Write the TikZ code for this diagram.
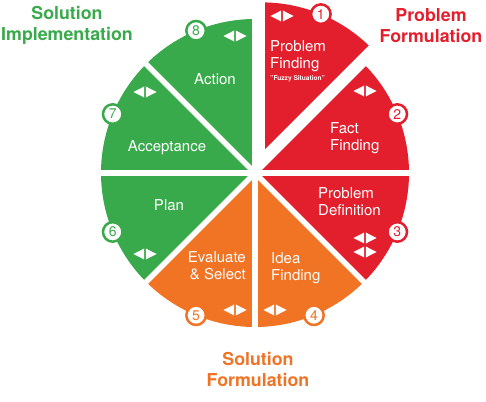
\documentclass[tikz,border=0pt]{standalone}
\usepackage{fontspec}
\setmainfont{TeX Gyre Heros}
\usetikzlibrary{calc}
\definecolor{redc}{HTML}{E41F2D}
\definecolor{greenc}{HTML}{39AA4B}
\definecolor{orangec}{HTML}{F17324}
\tikzset{
  lab/.style={text=white, font=\fontsize{15}{17.5}\selectfont, inner sep=0pt},
  ttl/.style={font=\bfseries\fontsize{17.8}{21}\selectfont, align=center, inner sep=0pt},
  numc/.style={circle, draw=#1, line width=2.5pt, fill=white, text=#1, minimum size=19.5pt, inner sep=0pt, font=\fontsize{14}{14}\selectfont},
  gap/.style={white, line width=5.5pt},
  lr/.pic={\fill[white] (-0.8,-5.5) -- (-0.8,5.5) -- (-11.5,0) -- cycle;
           \fill[white] (0.8,-5.5) -- (0.8,5.5) -- (11.5,0) -- cycle;}
}
\begin{document}
\begin{tikzpicture}[x=1pt,y=1pt]
\fill[white] (0,0) rectangle (486,401);
\useasboundingbox (0,0) rectangle (486,401);
\coordinate (C) at (255,228);
\coordinate (C1) at (261.9,244.6);
% sectors 2..8
\fill[redc] (C) -- ++(0:154) arc[start angle=0,end angle=45,radius=154] -- cycle;
\fill[redc] (C) -- ++(-45:154) arc[start angle=-45,end angle=0,radius=154] -- cycle;
\fill[orangec] (C) -- ++(-90:154) arc[start angle=-90,end angle=-45,radius=154] -- cycle;
\fill[orangec] (C) -- ++(-135:154) arc[start angle=-135,end angle=-90,radius=154] -- cycle;
\fill[greenc] (C) -- ++(180:154) arc[start angle=180,end angle=225,radius=154] -- cycle;
\fill[greenc] (C) -- ++(135:154) arc[start angle=135,end angle=180,radius=154] -- cycle;
\fill[greenc] (C) -- ++(90:154) arc[start angle=90,end angle=135,radius=154] -- cycle;
\foreach \a in {0,45,...,315} \draw[gap] (C) -- ++(\a:165);
% exploded sector 1
\fill[redc] (C1) -- ++(45:154) arc[start angle=45,end angle=90,radius=154] -- cycle;
\draw[gap] (C1) -- ++(45:165);
\draw[gap] (C1) -- ++(90:165);
% number circles
\node[numc=redc] (n1) at ($(C1)+(67.5:154)$) {1};
\node[numc=redc] (n2) at ($(C)+(22.5:154)$) {2};
\node[numc=redc] (n3) at ($(C)+(-22.5:154)$) {3};
\node[numc=orangec] (n4) at ($(C)+(-67.5:154)$) {4};
\node[numc=orangec] (n5) at ($(C)+(-112.5:154)$) {5};
\node[numc=greenc] (n6) at ($(C)+(-157.5:154)$) {6};
\node[numc=greenc] (n7) at ($(C)+(157.5:154)$) {7};
\node[numc=greenc] (n8) at ($(C)+(112.5:154)$) {8};
% double arrow glyphs
\pic at (282,385) {lr};
\pic at (365,310) {lr};
\pic at (365,163) {lr};
\pic at (365,149) {lr};
\pic at (275,91) {lr};
\pic at (235,91) {lr};
\pic at (145,147) {lr};
\pic at (145,309) {lr};
\pic at (235,365) {lr};
% sector labels
\node[lab, align=left, anchor=north west] (t1) at (270,361) {Problem\\Finding};
\node[text=white, font=\bfseries\fontsize{6.6}{7}\selectfont, inner sep=0pt, anchor=north west] (t1b) at (270,325.5) {"Fuzzy Situation"};
\node[lab, align=left, anchor=north west] (t2) at (330,279) {Fact\\Finding};
\node[lab, align=left, anchor=north west] (t3) at (318,214) {Problem\\Definition};
\node[lab, align=left, anchor=north west] (t4) at (271,149) {Idea\\Finding};
\node[lab, align=right, anchor=north east] (t5) at (246,150) {Evaluate\\\& Select};
\node[lab, anchor=north] (t6) at (169,202) {Plan};
\node[lab, anchor=north] (t7) at (167,261) {Acceptance};
\node[lab, anchor=north] (t8) at (215,328) {Action};
% titles
\node[ttl, text=greenc, anchor=north] (h1) at (67,395) {Solution\\Implementation};
\node[ttl, text=redc, anchor=north] (h2) at (431,393) {Problem\\Formulation};
\node[ttl, text=orangec, anchor=north] (h3) at (258,49) {Solution\\Formulation};
\end{tikzpicture}
\end{document}
